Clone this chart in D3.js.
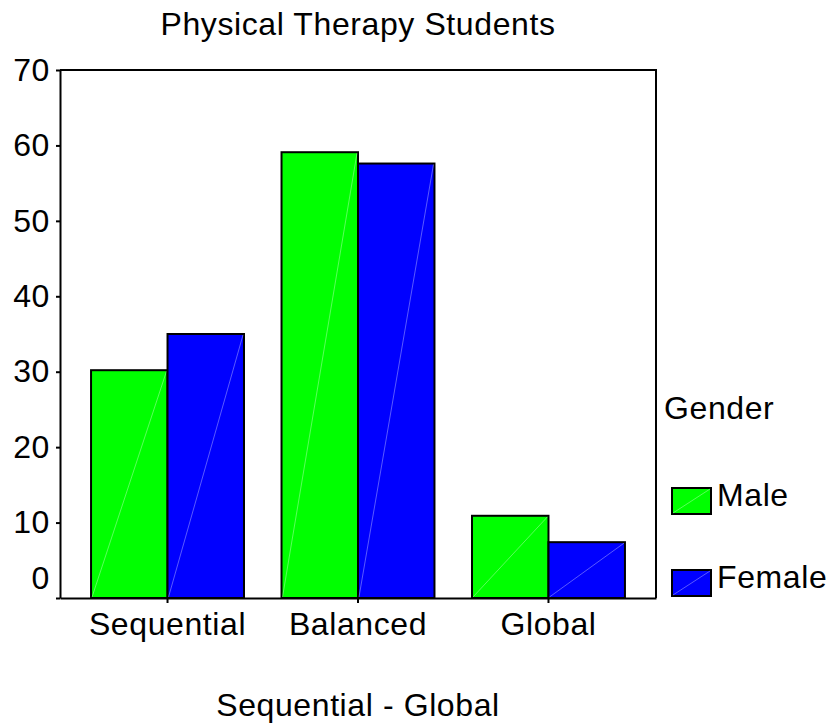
<!DOCTYPE html>
<html>
<head>
<meta charset="utf-8">
<script src="https://cdn.jsdelivr.net/npm/d3@7"></script>
<style>
  body { margin: 0; background: #fff; }
  text { font-family: "Liberation Sans", Arial, sans-serif; fill: #000; letter-spacing: 0.6px; }
</style>
</head>
<body>
<div id="chart-area"></div>
<script>
// data
var categories = ["Sequential", "Balanced", "Global"];
var genders = ["Male", "Female"];
var maleValues = [30.2, 59.1, 10.9];
var femaleValues = [35.0, 57.6, 7.4];
var yTicks = [0, 10, 20, 30, 40, 50, 60, 70];
var colors = ["#00ff00", "#0000ff"];

var margin = { left: 60, right: 171, top: 70, bottom: 127 };
var width = 827 - margin.left - margin.right,
    height = 725 - margin.top - margin.bottom;

var svg = d3.select("#chart-area")
    .append("svg")
        .attr("width", 827)
        .attr("height", 725);

var g = svg.append("g")
    .attr("transform", "translate(" + margin.left + ", " + margin.top + ")");

// scales
var x0 = d3.scaleBand().domain(categories).range([0, width])
    .paddingInner(0.197).paddingOuter(0.163);
var x1 = d3.scaleBand().domain(genders).range([0, x0.bandwidth()]);
var y = d3.scaleLinear().domain([0, 70]).range([height, 0]);
var color = d3.scaleOrdinal().domain(genders).range(colors);

var rows = categories.map(function(c, i){
    return { cat: c, values: [
        { gender: "Male", value: maleValues[i] },
        { gender: "Female", value: femaleValues[i] }
    ]};
});

// frame (top + right)
g.append("path")
    .attr("d", "M0,0H" + width + "V" + height)
    .attr("fill", "none")
    .attr("stroke", "#000")
    .attr("stroke-width", 2);

// bars
var groups = g.selectAll(".grp").data(rows).enter()
    .append("g")
    .attr("class", "grp")
    .attr("transform", function(d){ return "translate(" + x0(d.cat) + ",0)"; });

var bars = groups.selectAll(".bar").data(function(d){ return d.values; }).enter()
    .append("g").attr("class", "bar");

bars.append("rect")
    .attr("x", function(d){ return x1(d.gender); })
    .attr("y", function(d){ return y(d.value); })
    .attr("width", x1.bandwidth())
    .attr("height", function(d){ return height - y(d.value); })
    .attr("fill", function(d){ return color(d.gender); })
    .attr("stroke", "#000")
    .attr("stroke-width", 2);

// faint diagonal seam inside each bar
bars.append("line")
    .attr("x1", function(d){ return x1(d.gender) + 1; })
    .attr("y1", height - 1)
    .attr("x2", function(d){ return x1(d.gender) + x1.bandwidth() - 1; })
    .attr("y2", function(d){ return y(d.value) + 1; })
    .attr("stroke", "#fff")
    .attr("stroke-opacity", 0.35)
    .attr("stroke-width", 1);

// Y axis
var yAxis = g.append("g")
    .call(d3.axisLeft(y).tickValues(yTicks).tickSize(4).tickSizeOuter(0).tickPadding(6));
yAxis.select(".domain").attr("stroke-width", 2);
yAxis.selectAll(".tick line").attr("stroke-width", 2);
yAxis.selectAll("text")
    .attr("font-size", "32px")
    .attr("font-family", "Liberation Sans, Arial, sans-serif");
yAxis.selectAll(".tick text")
    .filter(function(d){ return d === 0; })
    .attr("dy", "-0.31em");

// X axis
var xAxis = g.append("g")
    .attr("transform", "translate(0," + height + ")")
    .call(d3.axisBottom(x0).tickSize(5).tickSizeOuter(0).tickPadding(9));
xAxis.select(".domain").attr("stroke-width", 2);
xAxis.selectAll(".tick line").attr("stroke-width", 2);
xAxis.selectAll("text")
    .attr("font-size", "32px")
    .attr("font-family", "Liberation Sans, Arial, sans-serif");

// Title
svg.append("text")
    .attr("x", margin.left + width / 2)
    .attr("y", 35)
    .attr("font-size", "32px")
    .attr("text-anchor", "middle")
    .text("Physical Therapy Students");

// X Label
svg.append("text")
    .attr("x", margin.left + width / 2)
    .attr("y", 716)
    .attr("font-size", "32px")
    .attr("text-anchor", "middle")
    .text("Sequential - Global");

// Legend
var legend = svg.append("g").attr("transform", "translate(664,0)");
legend.append("text")
    .attr("x", 0)
    .attr("y", 419)
    .attr("font-size", "32px")
    .text("Gender");

var legendRows = [488, 570];
var items = legend.selectAll(".leg").data(genders).enter()
    .append("g")
    .attr("class", "leg")
    .attr("transform", function(d, i){ return "translate(8," + legendRows[i] + ")"; });
items.append("rect")
    .attr("width", 39)
    .attr("height", 26)
    .attr("fill", function(d){ return color(d); })
    .attr("stroke", "#000")
    .attr("stroke-width", 2);
items.append("line")
    .attr("x1", 1).attr("y1", 25).attr("x2", 38).attr("y2", 1)
    .attr("stroke", "#fff").attr("stroke-opacity", 0.35);
items.append("text")
    .attr("x", 45)
    .attr("y", 18)
    .attr("font-size", "32px")
    .text(function(d){ return d; });
</script>
</body>
</html>
